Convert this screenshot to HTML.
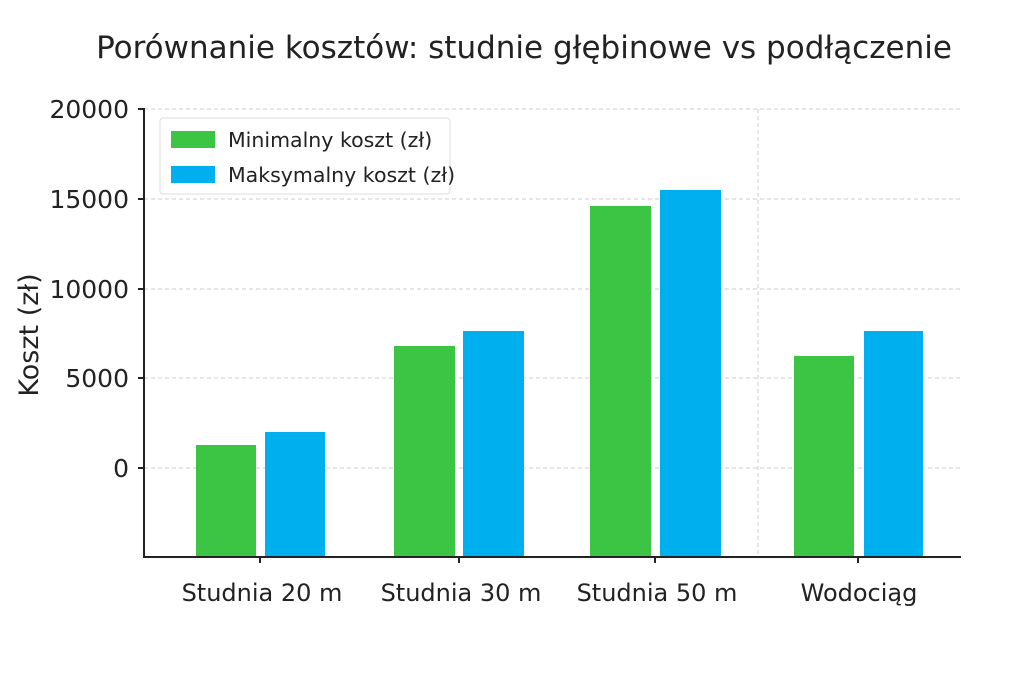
<!DOCTYPE html>
<html><head><meta charset="utf-8"><style>
body{margin:0;background:#fff}
svg text{font-family:"DejaVu Sans","Liberation Sans",sans-serif;fill:#222}
</style></head><body>
<svg width="1024" height="683" viewBox="0 0 1024 683" xmlns="http://www.w3.org/2000/svg">
<rect width="1024" height="683" fill="#fff"/>
<text x="524" y="58" font-size="31" text-anchor="middle">Porównanie kosztów: studnie głębinowe vs podłączenie</text>
<g stroke="#ccc" stroke-width="1" stroke-dasharray="4,3">
<line x1="144" y1="109" x2="961" y2="109"/>
<line x1="144" y1="199" x2="961" y2="199"/>
<line x1="144" y1="289" x2="961" y2="289"/>
<line x1="144" y1="378" x2="961" y2="378"/>
<line x1="144" y1="468" x2="961" y2="468"/>
<line x1="758" y1="109" x2="758" y2="557"/>
</g>
<g fill="#3cc444">
<rect x="196" y="445" width="60" height="112"/>
<rect x="394" y="346" width="61" height="211"/>
<rect x="590" y="206" width="61" height="351"/>
<rect x="794" y="356" width="60" height="201"/>
</g>
<g fill="#00b0ee">
<rect x="265" y="432" width="60" height="125"/>
<rect x="463" y="331" width="61" height="226"/>
<rect x="660" y="190" width="61" height="367"/>
<rect x="864" y="331" width="59" height="226"/>
</g>
<g stroke="#222" stroke-width="2">
<line x1="144" y1="108" x2="144" y2="558"/>
<line x1="143" y1="557" x2="961" y2="557"/>
<line x1="138" y1="109" x2="144" y2="109"/>
<line x1="138" y1="199" x2="144" y2="199"/>
<line x1="138" y1="289" x2="144" y2="289"/>
<line x1="138" y1="378" x2="144" y2="378"/>
<line x1="138" y1="468" x2="144" y2="468"/>
<line x1="260" y1="557" x2="260" y2="563"/>
<line x1="459" y1="557" x2="459" y2="563"/>
<line x1="655" y1="557" x2="655" y2="563"/>
<line x1="858" y1="557" x2="858" y2="563"/>
</g>
<g font-size="25" text-anchor="end">
<text x="129" y="118">20000</text>
<text x="129" y="208">15000</text>
<text x="129" y="298">10000</text>
<text x="129" y="387">5000</text>
<text x="129" y="477">0</text>
</g>
<g font-size="24" text-anchor="middle">
<text x="262" y="601">Studnia 20 m</text>
<text x="461" y="601">Studnia 30 m</text>
<text x="657" y="601">Studnia 50 m</text>
<text x="859" y="601">Wodociąg</text>
</g>
<text transform="translate(38,335) rotate(-90)" font-size="27" text-anchor="middle">Koszt (zł)</text>
<rect x="160" y="118" width="290" height="76" fill="#fff" fill-opacity="0.85" stroke="#ddd" rx="3"/>
<rect x="171" y="131" width="44" height="17" fill="#3cc444"/>
<rect x="171" y="166" width="44" height="17" fill="#00b0ee"/>
<text x="228" y="147" font-size="20.5">Minimalny koszt (zł)</text>
<text x="228" y="182" font-size="20.5">Maksymalny koszt (zł)</text>
</svg>
</body></html>
